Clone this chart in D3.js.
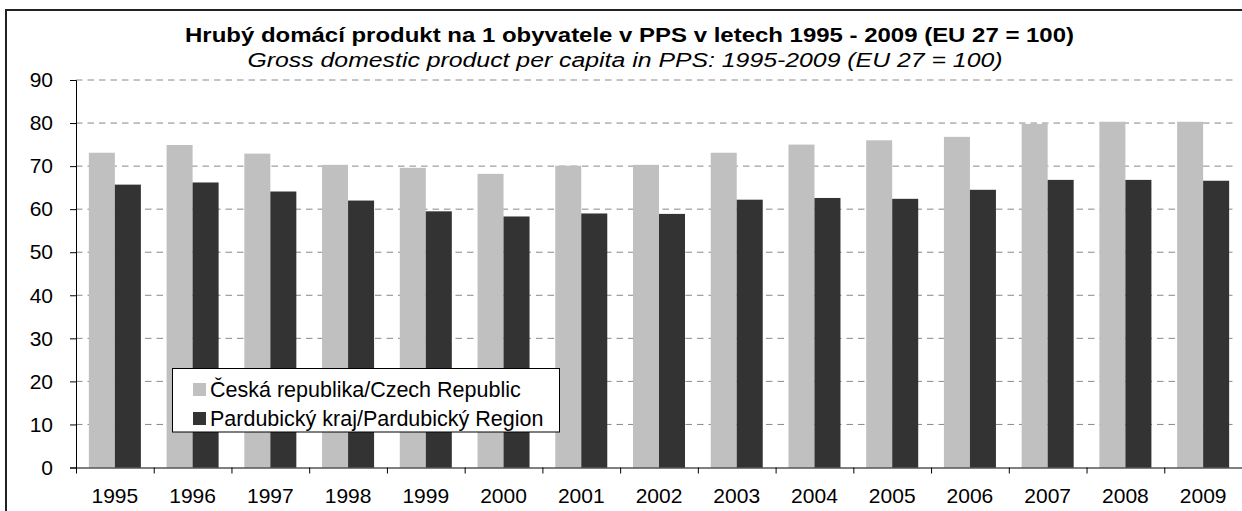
<!DOCTYPE html>
<html>
<head>
<meta charset="utf-8">
<script src="https://cdn.jsdelivr.net/npm/d3@7"></script>
<style>
  body { margin: 0; background: #fff; }
  svg { display: block; font-family: Arial, "Liberation Sans", sans-serif; }
</style>
</head>
<body>
<svg width="1242" height="511"></svg>
<script>
var years = ["1995", "1996", "1997", "1998", "1999", "2000", "2001", "2002",
             "2003", "2004", "2005", "2006", "2007", "2008", "2009"];
var czech = [73.1, 74.9, 72.9, 70.3, 69.6, 68.2, 70.1, 70.3, 73.1, 75.0, 76.0, 76.8, 79.8, 80.3, 80.3];
var pardubice = [65.7, 66.2, 64.1, 62.0, 59.5, 58.3, 59.0, 58.9, 62.2, 62.6, 62.4, 64.5, 66.8, 66.8, 66.6];
var seriesNames = ["Česká republika/Czech Republic", "Pardubický kraj/Pardubický Region"];
var yTicks = [0, 10, 20, 30, 40, 50, 60, 70, 80, 90];

var svg = d3.select("svg"),
    margin = {top: 80, right: 0, bottom: 43.5, left: 76},
    width = +svg.attr("width") - margin.left - margin.right,
    height = +svg.attr("height") - margin.top - margin.bottom,
    colors = ["#c0c0c0", "#333333"];

// outer frame
svg.append("rect")
    .attr("x", 6).attr("y", 10)
    .attr("width", 1240).attr("height", 520)
    .attr("fill", "none").attr("stroke", "#222").attr("stroke-width", 2);

svg.append("text")
    .attr("x", 629.5).attr("y", 42)
    .attr("text-anchor", "middle")
    .attr("font-size", 20).attr("font-weight", "bold")
    .attr("textLength", 889).attr("lengthAdjust", "spacingAndGlyphs")
    .text("Hrubý domácí produkt na 1 obyvatele v PPS v letech 1995 - 2009 (EU 27 = 100)");
svg.append("text")
    .attr("x", 625).attr("y", 67)
    .attr("text-anchor", "middle")
    .attr("font-size", 20).attr("font-style", "italic")
    .attr("textLength", 755).attr("lengthAdjust", "spacingAndGlyphs")
    .text("Gross domestic product per capita in PPS: 1995-2009 (EU 27 = 100)");

var g = svg.append("g").attr("transform", "translate(" + margin.left + "," + margin.top + ")");

var x = d3.scaleBand().domain(years).range([0, width]),
    gap = x.bandwidth() * 0.1654,
    x1 = d3.scaleBand().domain([0, 1]).range([gap, x.bandwidth() - gap]),
    y = d3.scaleLinear().domain([0, 90]).range([height, 0]);

// gridlines
g.append("g").selectAll("line")
    .data(yTicks.slice(1))
    .enter().append("line")
    .attr("x1", 0).attr("x2", width - 6)
    .attr("y1", function(d) { return y(d); })
    .attr("y2", function(d) { return y(d); })
    .attr("stroke", "#888").attr("stroke-dasharray", "6.5,5");

var groups = g.append("g").selectAll("g")
    .data(years)
    .enter().append("g")
    .attr("transform", function(d) { return "translate(" + x(d) + ",0)"; });

groups.selectAll("rect")
    .data(function(d, i) { return [czech[i], pardubice[i]]; })
    .enter().append("rect")
    .attr("x", function(d, j) { return x1(j); })
    .attr("width", x1.bandwidth())
    .attr("y", function(d) { return y(d); })
    .attr("height", function(d) { return height - y(d); })
    .attr("fill", function(d, j) { return colors[j]; });

var yAxis = g.append("g")
    .call(d3.axisLeft(y).tickValues(yTicks).tickSize(6).tickPadding(17));
var xAxis = g.append("g")
    .attr("transform", "translate(0," + height + ")")
    .call(d3.axisBottom(x).tickSize(0).tickPadding(21));

// category boundary ticks
xAxis.selectAll(".sep")
    .data(years)
    .enter().append("line")
    .attr("class", "sep")
    .attr("x1", function(d) { return x(d) + 0.5; })
    .attr("x2", function(d) { return x(d) + 0.5; })
    .attr("y1", 0).attr("y2", 6)
    .attr("stroke", "#000");

[yAxis, xAxis].forEach(function(a) {
    a.select(".domain").attr("stroke", "#000");
    a.selectAll("text").attr("font-size", 21).attr("fill", "#000")
        .attr("font-family", "Arial, 'Liberation Sans', sans-serif");
});

// legend
var legend = svg.append("g").attr("transform", "translate(172.5,368.5)");
legend.append("rect")
    .attr("width", 387).attr("height", 63.5)
    .attr("fill", "#fff").attr("stroke", "#000");
seriesNames.forEach(function(name, i) {
    var row = legend.append("g").attr("transform", "translate(0," + (i * 29) + ")");
    row.append("rect")
        .attr("x", 20.5).attr("y", 14.5)
        .attr("width", 13).attr("height", 13)
        .attr("fill", colors[i]);
    row.append("text")
        .attr("x", 37.5).attr("y", 28)
        .attr("font-size", 21.5)
        .text(name);
});
</script>
</body>
</html>
